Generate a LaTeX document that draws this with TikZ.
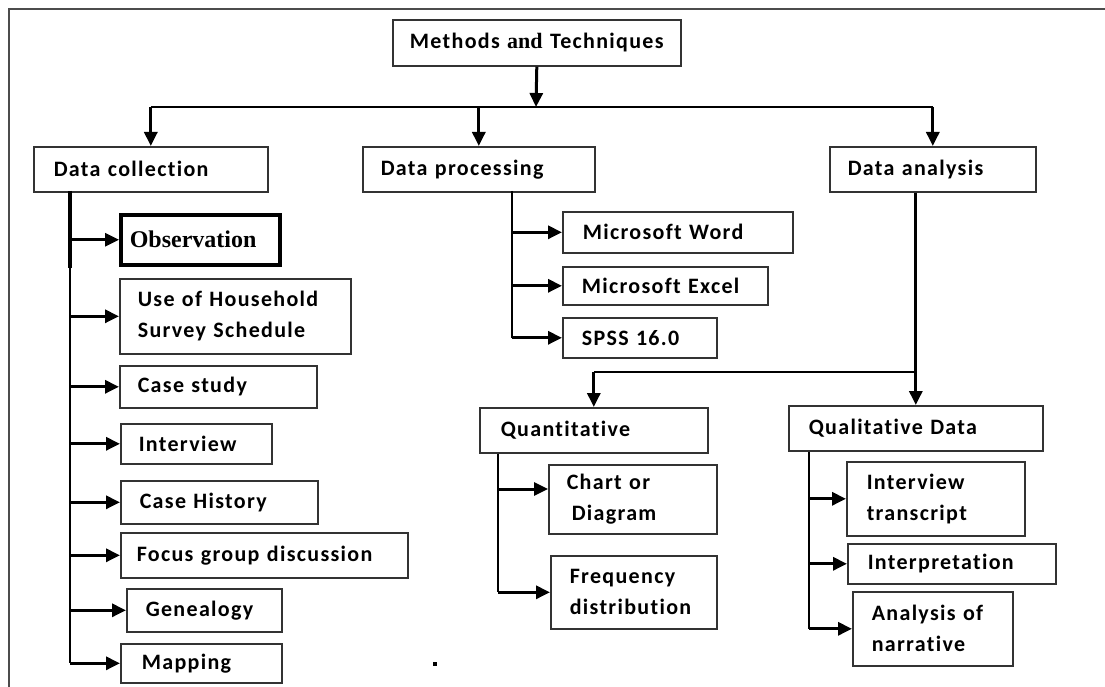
\documentclass[tikz,border=0pt]{standalone}
\usepackage{fontspec}
\setmainfont{Liberation Serif}
\newfontfamily\cf[LetterSpace=6,Ligatures=NoCommon]{Carlito}
\usetikzlibrary{arrows.meta,calc}
\tikzset{
  box/.style={draw=black!80, line width=1.6pt, anchor=north west, align=left, inner ysep=0pt,
    font=\cf\bfseries\fontsize{22}{31}\selectfont},
  conn/.style={line width=2.2pt, draw=black},
  arr/.style={line width=3pt, draw=black, -{Triangle[length=14pt,width=13pt]}},
}
\newcommand\bx[8][]{%
  \pgfmathsetmacro\bw{#5-#3}%
  \pgfmathsetmacro\bh{#6-#4}%
  \pgfmathsetmacro\tw{#5-#3-2*#7}%
  \node[box, minimum width=\bw pt, minimum height=\bh pt, text width=\tw pt, inner xsep=#7 pt, #1] (#2) at (#3,#4) {#8};%
}
\begin{document}
\begin{tikzpicture}[x=1pt,y=-1pt]
\useasboundingbox (0,0) rectangle (1105,687);
\draw[line width=1.8pt, black!70] (9,687) -- (9,9) -- (1105,9);
% boxes
\bx[align=center]{mt}{392}{19}{680}{65}{2}{Methods {\rmfamily\fontsize{22}{26}\selectfont and} Techniques}
\bx{dc}{33}{146}{267}{191}{20}{Data collection}
\bx{dp}{362}{146}{594}{191}{18}{Data processing}
\bx{da}{829}{146}{1035}{191}{18}{Data analysis}
\bx[line width=3.5pt, draw=black]{obs}{119}{213}{278}{263}{9}{{\rmfamily\fontsize{24}{28}\selectfont Observation}}
\bx{hh}{119}{278}{350}{353}{18}{Use of Household\\Survey Schedule}
\bx{cs}{119}{365}{316}{407}{18}{Case study}
\bx{iv}{120}{423}{271}{463}{18}{Interview}
\bx{ch}{120}{480}{317}{523}{19}{Case History}
\bx{fg}{120}{532}{407}{577}{16}{Focus group discussion}
\bx{ge}{126}{588}{281}{631}{19}{Genealogy}
\bx{mp}{120}{643}{281}{682}{21}{Mapping}
\bx{mw}{562}{211}{792}{252}{20}{Microsoft Word}
\bx{me}{562}{266}{767}{304}{19}{Microsoft Excel}
\bx{sp}{562}{317}{716}{357}{19}{SPSS 16.0}
\bx{qn}{479}{407}{707}{452}{21}{Quantitative}
\bx{qd}{788}{405}{1042}{450}{20}{Qualitative Data}
\bx{cr}{548}{464}{716}{533}{18}{Chart or\\\hspace*{5pt}Diagram}
\bx{fq}{550}{555}{716}{628}{19}{Frequency\\distribution}
\bx{it}{846}{461}{1024}{535}{20}{Interview\\transcript}
\bx{ip}{847}{543}{1055}{583}{20}{Interpretation}
\bx{an}{852}{591}{1012}{665}{19}{Analysis of\\narrative}
% top level connectors
\coordinate (h) at (536,107);
\draw[arr] (mt.south) -- (h);
\draw[conn] (dc.north |- h) -- (da.north |- h);
\draw[arr] (dc.north |- h) -- (dc.north);
\draw[arr] (dp.north |- h) -- (dp.north);
\draw[arr] (da.north |- h) -- (da.north);
% data collection
\coordinate (c0) at (70,191);
\coordinate (c1) at (70,268);
\draw[line width=4.5pt] (c0) -- (c1);
\draw[conn] (c1) -- (c0 |- mp.west);
\foreach \n in {obs,hh,cs,iv,ch,fg,ge,mp} \draw[arr] (c0 |- \n.west) -- (\n.west);
% data processing
\coordinate (p0) at (512,191);
\draw[conn] (p0) -- (p0 |- sp.west);
\foreach \n in {mw,me,sp} \draw[arr] (p0 |- \n.west) -- (\n.west);
% data analysis
\draw[arr] (da.south -| qd.north) -- (qd.north);
\coordinate (hq) at (592,372);
\draw[conn] (qn.north |- hq) -- (qd.north |- hq);
\draw[arr] (qn.north |- hq) -- (qn.north);
% quantitative
\coordinate (nx) at (498,0);
\coordinate (cy) at (0,489);
\draw[conn] (qn.south -| nx) -- (nx |- fq.west);
\draw[arr] (nx |- cy) -- (cr.west |- cy);
\draw[arr] (nx |- fq.west) -- (fq.west);
% qualitative
\coordinate (lx) at (809,0);
\draw[conn] (qd.south -| lx) -- (lx |- an.west);
\foreach \n in {it,ip,an} \draw[arr] (lx |- \n.west) -- (\n.west);
% stray dot
\fill (433,662) rectangle (437,666);
\end{tikzpicture}
\end{document}
